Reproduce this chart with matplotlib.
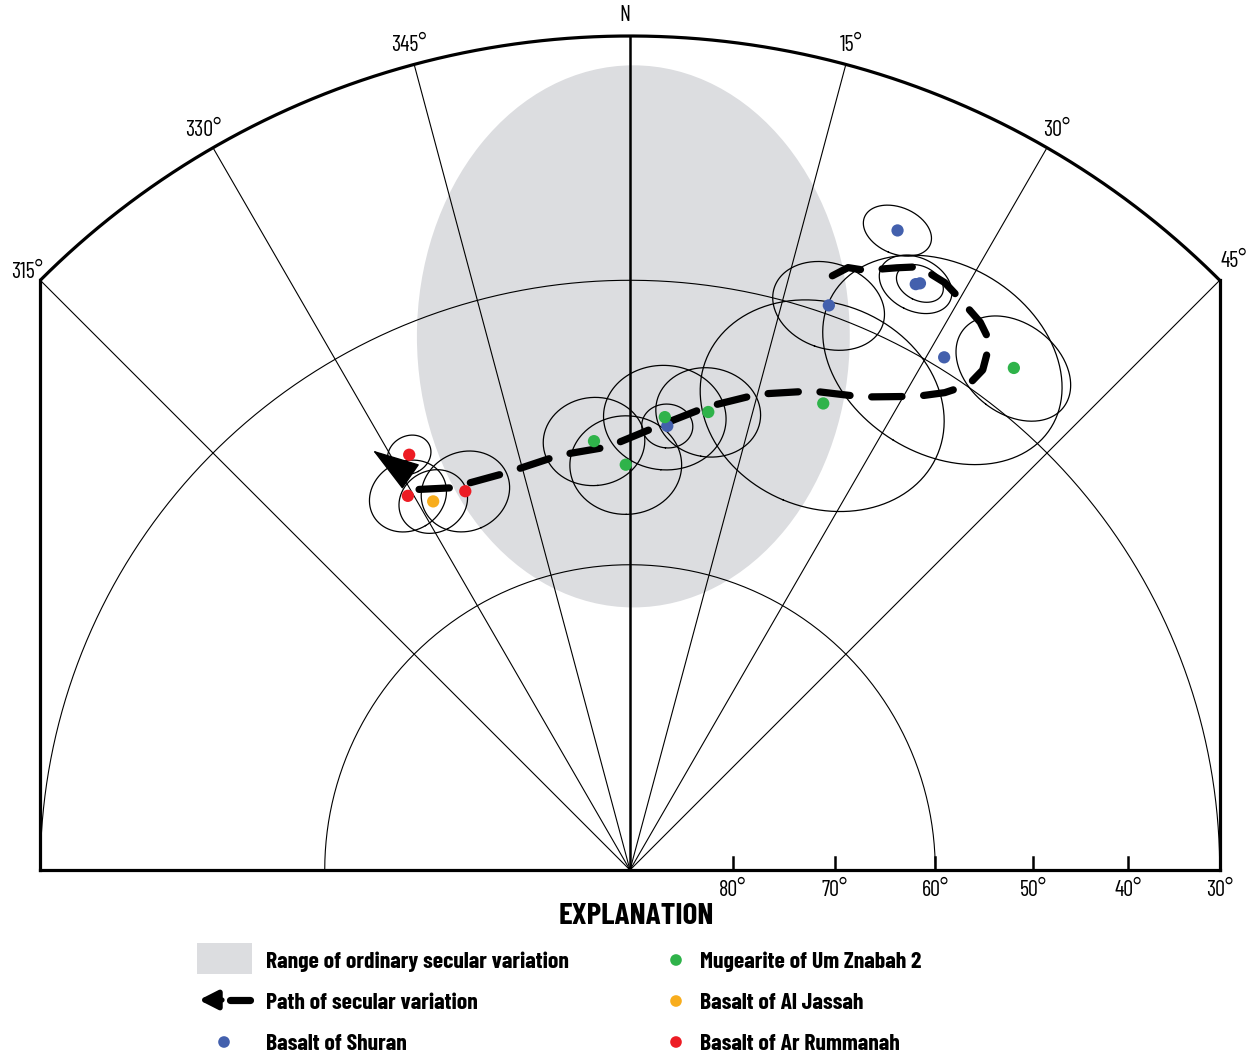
import numpy as np
import matplotlib
matplotlib.use("Agg")
import matplotlib.pyplot as plt
from matplotlib.patches import Ellipse, Rectangle

plt.rcParams['font.family'] = ['Barlow Condensed', 'DejaVu Sans']

# site mean directions: declination, inclination, alpha95 (degrees)
shuran_dec = [22.7, 26.3, 26.0, 19.4, 31.5, 4.8]
shuran_inc = [18.0, 22.6, 22.9, 29.0, 28.7, 45.6]
shuran_a95 = [2.8, 2.0, 3.1, 4.8, 10.7, 2.3]

znabah_dec = [37.4, 22.5, 9.7, 4.4, 355.2, 359.4]
znabah_inc = [25.2, 39.3, 43.6, 44.7, 47.2, 49.8]
znabah_a95 = [5.2, 11.0, 4.7, 5.5, 4.6, 5.1]

jassah_dec = [331.9]
jassah_inc = [48.5]
jassah_a95 = [3.2]

rummanah_dec = [332.0, 329.3, 336.5]
rummanah_inc = [43.0, 46.7, 49.0]
rummanah_a95 = [2.0, 3.6, 4.1]

# path of secular variation (west end first)
path_dec = [331.0, 335.0, 342.8, 350.4, 357.0, 3.6, 9.4, 15.1, 20.8, 26.2, 31.2, 33.4,
            34.9, 35.2, 34.3, 32.6, 29.8, 28.2, 25.6, 23.9, 21.4, 19.9, 17.7]
path_inc = [46.7, 48.1, 48.7, 48.2, 47.9, 45.7, 43.1, 40.6, 38.5, 36.9, 34.0, 32.0,
            29.8, 27.5, 24.4, 23.1, 21.9, 21.2, 20.9, 22.1, 23.8, 24.2, 27.1]
arrow_dec = [330.8, 328.5]
arrow_inc = [45.0, 40.7]

azimuths = [315, 330, 345, 0, 15, 30, 45]
azimuth_labels = ['315°', '330°', '345°', 'N', '15°', '30°', '45°']
incl_ticks = [80, 70, 60, 50, 40, 30]

legend_labels = ['Range of ordinary secular variation', 'Path of secular variation',
                 'Basalt of Shuran', 'Mugearite of Um Znabah 2',
                 'Basalt of Al Jassah', 'Basalt of Ar Rummanah']

BLUE, GREEN, ORANGE, RED = '#4360ad', '#2fb34a', '#f8ad1d', '#ed1c24'
GRAY = '#dcdde0'
PX = 834.0          # pixels per unit radius
CX, CY = 630, 870   # pixel position of the centre


def proj(dec, inc):
    # equal-area (Schmidt) projection, lower hemisphere, unit primitive
    d = np.radians(np.asarray(dec, float))
    r = np.sqrt(2) * np.sin(np.radians(90 - np.asarray(inc, float)) / 2)
    return r * np.sin(d), r * np.cos(d)


def cone(dec, inc, a95, n=241):
    d, i, a = np.radians([dec, inc, a95])
    v = np.array([np.cos(i) * np.cos(d), np.cos(i) * np.sin(d), np.sin(i)])
    e1 = np.array([-np.sin(i) * np.cos(d), -np.sin(i) * np.sin(d), np.cos(i)])
    e2 = np.cross(v, e1)
    t = np.linspace(0, 2 * np.pi, n)
    p = np.cos(a) * v[:, None] + np.sin(a) * (np.outer(e1, np.cos(t)) + np.outer(e2, np.sin(t)))
    dd = np.degrees(np.arctan2(p[1], p[0]))
    ii = np.degrees(np.arcsin(np.clip(p[2], -1, 1)))
    return proj(dd, ii)


def pix(x, y):
    return (x - CX) / PX, (CY - y) / PX


fig = plt.figure(figsize=(12.53, 10.55), dpi=100)
ax = fig.add_axes([0, 0, 1, 1])
ax.set_xlim(pix(0, 0)[0], pix(1253, 0)[0])
ax.set_ylim(pix(0, 1055)[1], pix(0, 0)[1])
ax.axis('off')

# range of ordinary secular variation
osv_x, osv_y = proj(0, 36.2)
ax.add_patch(Ellipse((osv_x + 0.004, osv_y), 0.519, 0.650, facecolor=GRAY, edgecolor='none', zorder=0))

# net
t = np.linspace(-45, 45, 200)
ax.plot(*proj(t, np.zeros_like(t)), color='k', lw=2.3, zorder=2, solid_capstyle='butt')
for inc in [30, 60]:
    t = np.linspace(-90, 90, 300)
    ax.plot(*proj(t, np.full_like(t, inc)), color='k', lw=0.8, zorder=2)
for az in azimuths:
    x1, y1 = proj(az, 0)
    ax.plot([0, x1], [0, y1], color='k', lw=1.8 if az == 0 else 0.8, zorder=2)
for s in [-1, 1]:
    x1, y1 = proj(45 * s, 0)
    ax.plot([x1, x1], [y1, 0], color='k', lw=2.3, zorder=2, solid_capstyle='projecting')
xb = proj(90, 30)[0]
ax.plot([-xb, xb], [0, 0], color='k', lw=2.3, zorder=2, solid_capstyle='projecting')

for inc in incl_ticks:
    xt = proj(90, inc)[0]
    if inc != 30:
        ax.plot([xt, xt], [0, 13 / PX], color='k', lw=1.8, zorder=2)
    ax.text(xt, -20 / PX, f'{inc}°', ha='center', va='center', fontsize=16)

for az, lab in zip(azimuths, azimuth_labels):
    x1, y1 = proj(az, 0)
    if az == 315:
        ax.text(x1 + 3 / PX, y1 - 3 / PX, lab, ha='right', va='bottom', fontsize=16)
    elif az == 45:
        ax.text(x1 + 1 / PX, y1 + 8 / PX, lab, ha='left', va='bottom', fontsize=16)
    else:
        ax.text(x1 * 1.024 - (5 / PX if az == 0 else 0), y1 * 1.024, lab,
                ha='center', va='center', fontsize=16)

# confidence circles and site means
groups = [(shuran_dec, shuran_inc, shuran_a95, BLUE),
          (znabah_dec, znabah_inc, znabah_a95, GREEN),
          (jassah_dec, jassah_inc, jassah_a95, ORANGE),
          (rummanah_dec, rummanah_inc, rummanah_a95, RED)]
for decs, incs, a95s, col in groups:
    for d, i, a in zip(decs, incs, a95s):
        ax.plot(*cone(d, i, a), color='k', lw=0.9, zorder=3)

# path of secular variation
ax.plot(*proj(path_dec, path_inc), color='k', lw=5.2, dashes=(4.2, 3.0),
        dash_capstyle='round', solid_capstyle='round', zorder=4)
tail = proj(arrow_dec[0], arrow_inc[0])
tip = proj(arrow_dec[1], arrow_inc[1])
ax.annotate('', xy=tip, xytext=tail,
            arrowprops=dict(arrowstyle='-|>,head_length=1.55,head_width=0.5', color='k',
                            lw=1, shrinkA=0, shrinkB=0, mutation_scale=20), zorder=4)

for decs, incs, a95s, col in groups:
    ax.scatter(*proj(decs, incs), s=78, color=col, edgecolors='none', zorder=5)

# explanation
ax.text(*pix(636, 916), 'EXPLANATION', ha='center', va='center', fontsize=22.5, fontweight='bold')
row_y = [960, 1001, 1042]
ax.add_patch(Rectangle(pix(197, 974), 55 / PX, 31 / PX, facecolor=GRAY, edgecolor='none'))
ax.annotate('', xy=pix(199, 1000), xytext=pix(222, 1000),
            arrowprops=dict(arrowstyle='-|>,head_length=0.55,head_width=0.28', color='k',
                            lw=3.8, shrinkA=0, shrinkB=0, mutation_scale=20))
ax.plot(*zip(pix(230, 1000), pix(250, 1000)), color='k', lw=5.2, solid_capstyle='round')
ax.scatter(*pix(224, 1042), s=70, color=BLUE, edgecolors='none')
for y, col in zip(row_y, [GREEN, ORANGE, RED]):
    ax.scatter(*pix(676, y), s=70, color=col, edgecolors='none')
for k, lab in enumerate(legend_labels):
    x = 266 if k < 3 else 700
    ax.text(*pix(x, row_y[k % 3] + 2), lab, ha='left', va='center', fontsize=17, fontweight='bold')

fig.savefig('out.png', dpi=100)
